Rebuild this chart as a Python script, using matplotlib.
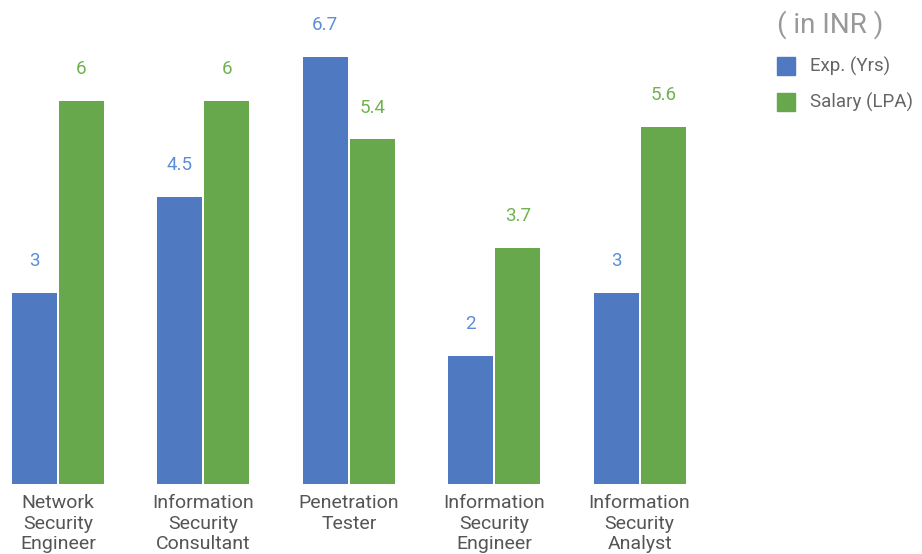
import matplotlib.pyplot as plt
from matplotlib.patches import Rectangle
import numpy as np

plt.rcParams['font.family'] = ['Roboto', 'DejaVu Sans']

# Datos
roles = ['Network\nSecurity\nEngineer', 'Information\nSecurity\nConsultant',
         'Penetration\nTester', 'Information\nSecurity\nEngineer',
         'Information\nSecurity\nAnalyst']
exp_yrs = [3, 4.5, 6.7, 2, 3]
salary_lpa = [6, 6, 5.4, 3.7, 5.6]
series_names = ['Exp. (Yrs)', 'Salary (LPA)']

bar_colors = ['#4f7ac2', '#67a84c']
label_colors = ['#5b8ed8', '#70b24e']

fig = plt.figure(figsize=(9.22, 5.54), dpi=100)
ax = fig.add_axes([0, 70 / 554, 720 / 922, 484 / 554])

x = np.arange(len(roles))
w = 0.31
off = 0.162
for vals, dx, c, lc in [(exp_yrs, -off, bar_colors[0], label_colors[0]),
                        (salary_lpa, off, bar_colors[1], label_colors[1])]:
    bars = ax.bar(x + dx, vals, width=w, color=c)
    for b, v in zip(bars, vals):
        ax.annotate(f'{v:g}', (b.get_x() + b.get_width() / 2, v),
                    xytext=(0, 23), textcoords='offset points',
                    ha='center', va='center', fontsize=13.5, color=lc)

ax.set_xlim(-58 / 145.4, (720 - 58) / 145.4)
ax.set_ylim(0, 484 / 63.8)
ax.set_xticks(x)
ax.set_xticklabels(roles, fontsize=14, color='#555555', linespacing=1.15)
ax.tick_params(axis='x', length=0, pad=7.5)
ax.set_yticks([])
for s in ax.spines.values():
    s.set_visible(False)

# Leyenda manual
fig.text(830 / 922, 1 - 25 / 554, '( in INR )', ha='center', va='center',
         fontsize=20, color='#999999')
for i, name in enumerate(series_names):
    yc = 66 + i * 36
    fig.patches.append(Rectangle((777 / 922, 1 - (yc + 9) / 554), 18 / 922, 18 / 554,
                                 transform=fig.transFigure, color=bar_colors[i]))
    fig.text(810 / 922, 1 - yc / 554, name, ha='left', va='center',
             fontsize=13.5, color='#666666')

fig.savefig('out.png', dpi=100)
